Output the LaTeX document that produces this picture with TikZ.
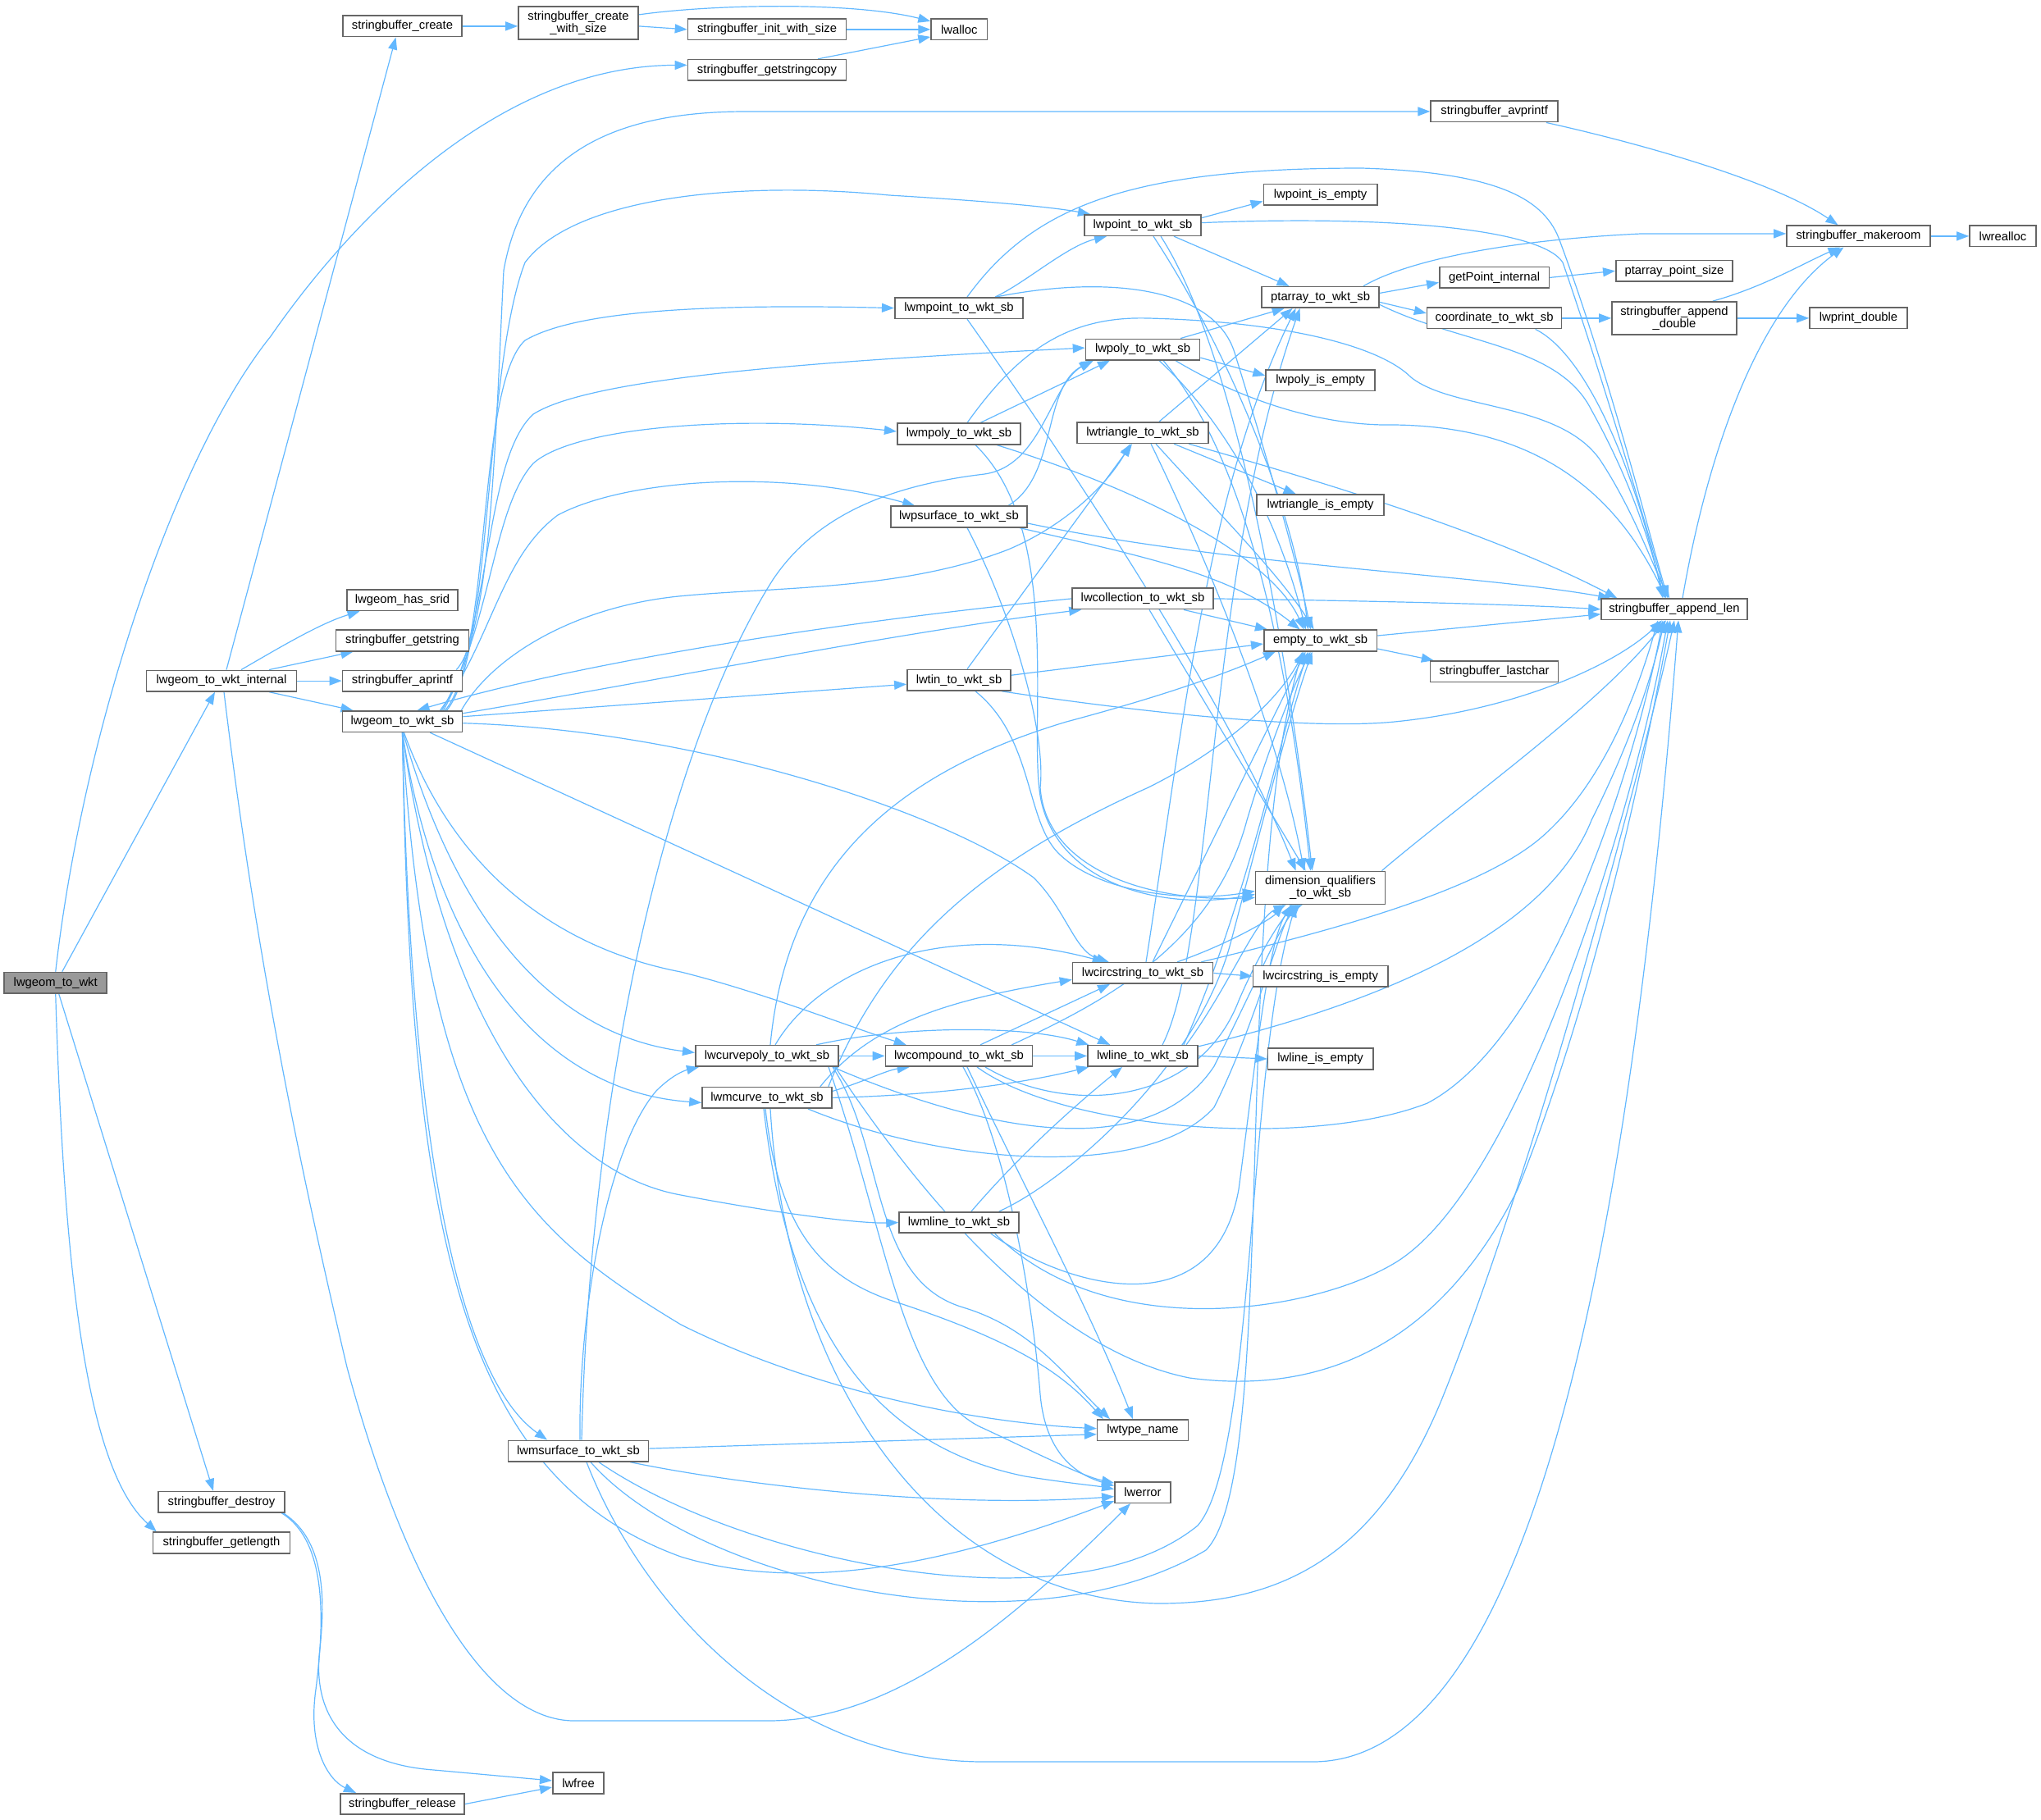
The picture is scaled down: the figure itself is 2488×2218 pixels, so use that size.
\documentclass[tikz,border=0pt]{standalone}
\usepackage{fontspec}
\setmainfont{Liberation Sans}
\usetikzlibrary{arrows.meta,calc}
\definecolor{edgeblue}{HTML}{63B8FF}
\definecolor{boxgray}{HTML}{666666}
\definecolor{rootgray}{HTML}{999999}
\pgfdeclarelayer{bg}
\pgfsetlayers{bg,main}
\begin{document}
\begin{tikzpicture}[x=0.5pt,y=-0.5pt,
  box/.style={draw=boxgray, line width=0.8pt, fill=white, rectangle, inner sep=0pt,
    minimum height=12.75pt, font=\fontsize{7.4pt}{7.6pt}\selectfont, align=center},
  wd/.style={minimum width=#1*0.5pt},
  e/.style={draw=edgeblue, line width=0.6pt, -{Triangle[length=7.5pt,width=5.5pt]}},
]
\path[use as bounding box] (0,0) rectangle (2488,2218);
% nodes
\node[box,wd=125,fill=rootgray] (root) at (67.75,1198.25) {lwgeom\_to\_wkt};
\node[box,wd=183] (internal) at (270,830.1) {lwgeom\_to\_wkt\_internal};
\node[box,wd=145] (sbcreate) at (490.5,31.9) {stringbuffer\_create};
\node[box,wd=146,minimum height=20pt] (sbcws) at (705,27.9) {stringbuffer\_create\\\_with\_size};
\node[box,wd=193] (sbinit) at (935,35.9) {stringbuffer\_init\_with\_size};
\node[box,wd=68.5] (lwalloc) at (1169.3,35.9) {lwalloc};
\node[box,wd=193] (getstringcopy) at (935,85.4) {stringbuffer\_getstringcopy};
\node[box,wd=135] (hassrid) at (490.5,731.7) {lwgeom\_has\_srid};
\node[box,wd=162] (getstring) at (490.5,781) {stringbuffer\_getstring};
\node[box,wd=146] (aprintf) at (490.5,830.1) {stringbuffer\_aprintf};
\node[box,wd=146] (tosb) at (490.5,879.7) {lwgeom\_to\_wkt\_sb};
\node[box,wd=155] (avprintf) at (1821.6,135.9) {stringbuffer\_avprintf};
\node[box,wd=142.5] (point) at (1393,274.6) {lwpoint\_to\_wkt\_sb};
\node[box,wd=138.6] (pointempty) at (1609.6,237.4) {lwpoint\_is\_empty};
\node[box,wd=156.5] (mpoint) at (1169,375.6) {lwmpoint\_to\_wkt\_sb};
\node[box,wd=143] (ptarray) at (1609.6,362.4) {ptarray\_to\_wkt\_sb};
\node[box,wd=139] (poly) at (1393,426.1) {lwpoly\_to\_wkt\_sb};
\node[box,wd=133] (polyempty) at (1609.6,463.9) {lwpoly\_is\_empty};
\node[box,wd=150.5] (mpoly) at (1169,529) {lwmpoly\_to\_wkt\_sb};
\node[box,wd=160] (triangle) at (1393,527.6) {lwtriangle\_to\_wkt\_sb};
\node[box,wd=155] (triempty) at (1609.6,615.8) {lwtriangle\_is\_empty};
\node[box,wd=166] (psurface) at (1169,630) {lwpsurface\_to\_wkt\_sb};
\node[box,wd=172] (collection) at (1393,729.9) {lwcollection\_to\_wkt\_sb};
\node[box,wd=175] (makeroom) at (2265.5,287.9) {stringbuffer\_makeroom};
\node[box,wd=81] (lwrealloc) at (2441.5,287.9) {lwrealloc};
\node[box,wd=133.6] (getpoint) at (1821.6,338.4) {getPoint\_internal};
\node[box,wd=142.4] (ptsize) at (2041,330.3) {ptarray\_point\_size};
\node[box,wd=164] (coord) at (1821.6,387.9) {coordinate\_to\_wkt\_sb};
\node[box,wd=152,minimum height=20pt] (appdouble) at (2041,387.9) {stringbuffer\_append\\\_double};
\node[box,wd=119] (lwprint) at (2265.5,387.9) {lwprint\_double};
\node[box,wd=178] (applen) at (2041,742.8) {stringbuffer\_append\_len};
\node[box,wd=137.7] (emptyn) at (1609.6,781) {empty\_to\_wkt\_sb};
\node[box,wd=156] (lastchar) at (1821.6,818.8) {stringbuffer\_lastchar};
\node[box,wd=126.3] (tin) at (1169,829.2) {lwtin\_to\_wkt\_sb};
\node[box,wd=158,minimum height=20pt] (dimq) at (1609.6,1082.4) {dimension\_qualifiers\\\_to\_wkt\_sb};
\node[box,wd=171] (circ) at (1393,1186.4) {lwcircstring\_to\_wkt\_sb};
\node[box,wd=164.3] (circempty) at (1609.6,1190.2) {lwcircstring\_is\_empty};
\node[box,wd=174.5] (curvepoly) at (935,1287.4) {lwcurvepoly\_to\_wkt\_sb};
\node[box,wd=179] (compound) at (1169,1287.4) {lwcompound\_to\_wkt\_sb};
\node[box,wd=134] (lline) at (1393,1287.4) {lwline\_to\_wkt\_sb};
\node[box,wd=128.3] (lineempty) at (1609.6,1291) {lwline\_is\_empty};
\node[box,wd=158] (mcurve) at (935,1338.4) {lwmcurve\_to\_wkt\_sb};
\node[box,wd=146] (mline) at (1169,1490.5) {lwmline\_to\_wkt\_sb};
\node[box,wd=110.7] (typename) at (1393,1743.7) {lwtype\_name};
\node[box,wd=171] (msurface) at (705,1769.1) {lwmsurface\_to\_wkt\_sb};
\node[box,wd=68.3] (lwerror) at (1393,1819.6) {lwerror};
\node[box,wd=153.5] (destroy) at (270,1831.4) {stringbuffer\_destroy};
\node[box,wd=166.7] (getlength) at (270,1881) {stringbuffer\_getlength};
\node[box,wd=62.5] (lwfree) at (705,2174) {lwfree};
\node[box,wd=151.4] (release) at (490.5,2199.5) {stringbuffer\_release};

\begin{pgfonlayer}{bg}
% root
\draw[e] (root.north) .. controls (100,900) and (210,560) .. (330,410) .. controls (420,280) and (600,80) .. ($(getstringcopy.west)+(0,-6)$);
\draw[e] ($(root.north)+(8,0)$) -- ($(internal.south)+(-8,0)$);
\draw[e] ($(root.south)+(4,0)$) -- ($(destroy.north)+(-10,0)$);
\draw[e] (root.south) .. controls (78,1550) and (105,1790) .. ($(getlength.north west)+(5,0)$);
% internal
\draw[e] ($(internal.north)+(6,0)$) -- ($(sbcreate.south)+(-8,0)$);
\draw[e] ($(internal.north)+(24,0)$) .. controls (340,790) and (390,760) .. ($(hassrid.south)+(-52,0)$);
\draw[e] ($(internal.north)+(58,0)$) -- ($(getstring.south)+(-60,0)$);
\draw[e] (internal.east) -- (aprintf.west);
\draw[e] ($(internal.south)+(58,0)$) -- ($(tosb.north)+(-60,0)$);
\draw[e] ($(internal.south)+(3,0)$) .. controls (310,1150) and (360,1400) .. (423,1667) .. controls (500,1950) and (600,2098) .. (700,2098) -- (936,2098) .. controls (1100,2098) and (1250,1960) .. ($(lwerror.south)+(-15,0)$);
% top strings
\draw[e] (sbcreate.east) -- ($(sbcws.west)+(0,4)$);
\draw[e] ($(sbcws.east)+(0,-10)$) .. controls (870,5) and (1040,2) .. ($(lwalloc.west)+(0,-10)$);
\draw[e] ($(sbcws.east)+(0,4)$) -- (sbinit.west);
\draw[e] (sbinit.east) -- (lwalloc.west);
\draw[e] ($(getstringcopy.north)+(62,0)$) -- ($(lwalloc.west)+(0,9)$);
\draw[e] ($(aprintf.north east)+(-8,0)$) .. controls (600,770) and (605,500) .. (614,330) .. controls (640,180) and (760,136) .. (909,136) -- (avprintf.west);
\draw[e] ($(avprintf.south east)+(-15,0)$) .. controls (2000,175) and (2160,220) .. ($(makeroom.north)+(-25,0)$);
\draw[e] (makeroom.east) -- (lwrealloc.west);
\draw[e] ($(appdouble.north east)+(-30,0)$) .. controls (2150,350) and (2200,320) .. ($(makeroom.south)+(-22,0)$);
\draw[e] (appdouble.east) -- (lwprint.west);
\draw[e] ($(applen.north)+(10,0)$) .. controls (2080,560) and (2140,380) .. ($(makeroom.south)+(-18,0)$);
\draw[e] (coord.east) -- (appdouble.west);
\draw[e] ($(coord.south)+(50,0)$) .. controls (1930,430) and (1990,560) .. ($(applen.north)+(-14,0)$);
\draw[e] (getpoint.east) -- (ptsize.west);
% ptarray
\draw[e] ($(ptarray.east)+(0,-5)$) -- ($(getpoint.west)+(0,6)$);
\draw[e] ($(ptarray.east)+(0,6)$) -- ($(coord.west)+(0,-6)$);
\draw[e] ($(ptarray.north east)+(-20,0)$) .. controls (1720,315) and (1850,292) .. (2000,285) -- ($(makeroom.west)+(0,-3)$);
\draw[e] ($(ptarray.east)+(0,9)$) .. controls (1780,420) and (1900,420) .. (1940,500) .. controls (1990,590) and (2010,660) .. ($(applen.north)+(-12,0)$);
% point
\draw[e] ($(point.east)+(0,-9)$) -- ($(pointempty.west)+(0,8)$);
\draw[e] ($(point.east)+(0,-3)$) .. controls (1700,262) and (1880,280) .. (1905,320) .. controls (1950,450) and (2010,650) .. ($(applen.north)+(-10,0)$);
\draw[e] ($(point.south)+(38,0)$) -- ($(ptarray.north)+(-38,0)$);
\draw[e] ($(point.south)+(13,0)$) .. controls (1480,400) and (1575,600) .. ($(emptyn.north)+(-15,0)$);
\draw[e] ($(point.south)+(22,0)$) .. controls (1500,420) and (1565,750) .. ($(dimq.north)+(-10,0)$);
% mpoint
\draw[e] ($(mpoint.north)+(44,0)$) .. controls (1250,345) and (1300,300) .. ($(point.south)+(-44,0)$);
\draw[e] ($(mpoint.north)+(10,0)$) .. controls (1260,250) and (1380,205) .. (1660,205) .. controls (1820,210) and (1880,240) .. (1900,290) .. controls (1960,450) and (2010,650) .. ($(applen.north)+(-8,0)$);
\draw[e] ($(mpoint.north east)+(-34,0)$) .. controls (1350,335) and (1480,350) .. (1505,430) .. controls (1545,560) and (1580,680) .. ($(emptyn.north)+(-12,0)$);
\draw[e] ($(mpoint.south)+(10,0)$) .. controls (1300,560) and (1500,860) .. ($(dimq.north)+(-30,0)$);
% poly
\draw[e] ($(poly.north)+(46,0)$) -- ($(ptarray.south)+(-44,0)$);
\draw[e] ($(poly.east)+(0,10)$) -- ($(polyempty.west)+(0,-6)$);
\draw[e] ($(poly.south)+(40,0)$) .. controls (1500,480) and (1600,520) .. (1700,518) .. controls (1850,520) and (1960,580) .. ($(applen.north)+(-10,0)$);
\draw[e] ($(poly.south)+(20,0)$) .. controls (1500,520) and (1560,640) .. ($(emptyn.north)+(-18,0)$);
\draw[e] ($(poly.south)+(25,0)$) .. controls (1520,560) and (1570,800) .. ($(dimq.north)+(-12,0)$);
% mpoly
\draw[e] ($(mpoly.north)+(26,0)$) -- ($(poly.south)+(-40,0)$);
\draw[e] ($(mpoly.north)+(10,0)$) .. controls (1240,430) and (1300,385) .. (1400,388) .. controls (1560,392) and (1680,420) .. (1720,460) .. controls (1770,500) and (1900,490) .. (1950,560) .. controls (1990,620) and (2015,690) .. ($(applen.north)+(-6,0)$);
\draw[e] ($(mpoly.south east)+(-30,0)$) .. controls (1400,600) and (1550,680) .. ($(emptyn.north)+(-20,0)$);
\draw[e] ($(mpoly.south)+(20,0)$) .. controls (1300,650) and (1250,900) .. (1270,980) .. controls (1295,1080) and (1420,1110) .. ($(dimq.west)+(0,8)$);
% triangle
\draw[e] ($(triangle.north)+(20,0)$) -- ($(ptarray.south)+(-34,0)$);
\draw[e] ($(triangle.south)+(38,0)$) -- ($(triempty.north)+(-30,0)$);
\draw[e] ($(triangle.south)+(56,0)$) .. controls (1550,570) and (1800,640) .. ($(applen.north west)+(20,0)$);
\draw[e] ($(triangle.south)+(16,0)$) .. controls (1480,620) and (1560,700) .. ($(emptyn.north)+(-8,0)$);
\draw[e] ($(triangle.south)+(10,0)$) .. controls (1480,700) and (1560,900) .. ($(dimq.north)+(-20,0)$);
% psurface
\draw[e] ($(psurface.north)+(60,0)$) .. controls (1290,580) and (1270,470) .. ($(poly.south)+(-60,0)$);
\draw[e] ($(psurface.east)+(0,8)$) .. controls (1500,690) and (1800,700) .. ($(applen.north west)+(12,0)$);
\draw[e] ($(psurface.south east)+(-10,0)$) .. controls (1400,680) and (1500,700) .. ($(emptyn.north)+(-25,0)$);
\draw[e] ($(psurface.south)+(10,0)$) .. controls (1240,760) and (1275,900) .. (1268,960) .. controls (1275,1060) and (1400,1100) .. ($(dimq.west)+(0,12)$);
% collection
\draw[e] (collection.east) .. controls (1700,733) and (1850,737) .. (applen.west);
\draw[e] ($(collection.south)+(50,0)$) -- ($(emptyn.north west)+(5,0)$);
\draw[e] ($(collection.south)+(8,0)$) -- ($(dimq.north)+(-18,0)$);
\draw[e] (collection.west) .. controls (1000,760) and (700,810) .. ($(tosb.north)+(18,0)$);
% lwgeom_to_wkt_sb
\draw[e] ($(tosb.east)+(0,-10)$) .. controls (800,830) and (1100,770) .. ($(collection.south west)+(12,0)$);
\draw[e] ($(tosb.east)+(0,-6)$) -- ($(tin.west)+(0,5)$);
\draw[e] ($(tosb.north east)+(-2,0)$) .. controls (600,800) and (700,740) .. (827,727) .. controls (950,715) and (1100,720) .. (1229,670) .. controls (1300,640) and (1350,590) .. ($(triangle.south)+(-15,0)$);
\draw[e] ($(tosb.east)+(0,2)$) .. controls (850,890) and (1150,990) .. (1260,1070) .. controls (1300,1110) and (1310,1160) .. ($(circ.north west)+(45,0)$);
\draw[e] ($(tosb.south east)+(-40,0)$) -- ($(lline.north west)+(28,0)$);
\draw[e] ($(tosb.north)+(54,0)$) .. controls (600,800) and (590,450) .. (640,320) .. controls (700,240) and (900,220) .. (1084,238) .. controls (1200,245) and (1280,252) .. ($(point.north west)+(8,0)$);
\draw[e] ($(tosb.north)+(52,0)$) .. controls (600,800) and (580,470) .. (640,415) .. controls (700,380) and (850,370) .. (mpoint.west);
\draw[e] ($(tosb.north)+(50,0)$) .. controls (600,760) and (590,560) .. (650,505) .. controls (720,460) and (1000,440) .. ($(poly.west)+(0,-2)$);
\draw[e] ($(tosb.north)+(48,0)$) .. controls (600,760) and (600,620) .. (650,565) .. controls (700,520) and (900,505) .. ($(mpoly.west)+(0,-3)$);
\draw[e] ($(tosb.north)+(46,0)$) .. controls (600,780) and (610,680) .. (680,628) .. controls (760,585) and (950,570) .. ($(psurface.north west)+(30,0)$);
\draw[e] ($(tosb.south)+(2,0)$) .. controls (560,1080) and (700,1160) .. (830,1185) .. controls (930,1210) and (1030,1250) .. ($(compound.north west)+(26,0)$);
\draw[e] ($(tosb.south)+(1,0)$) .. controls (550,1100) and (660,1260) .. ($(curvepoly.west)+(0,-4)$);
\draw[e] (tosb.south) .. controls (530,1150) and (650,1330) .. ($(mcurve.west)+(0,6)$);
\draw[e] (tosb.south) .. controls (540,1250) and (680,1430) .. (830,1457) .. controls (950,1480) and (1050,1492) .. (mline.west);
\draw[e] (tosb.south) .. controls (520,1400) and (640,1500) .. (830,1615) .. controls (1000,1700) and (1200,1735) .. ($(typename.west)+(0,-2)$);
\draw[e] (tosb.south) .. controls (500,1400) and (560,1680) .. ($(msurface.north)+(-38,0)$);
\draw[e] (tosb.south) .. controls (500,1500) and (560,1800) .. (830,1898) .. controls (1000,1950) and (1200,1890) .. ($(lwerror.south west)+(0,-3)$);
% tin
\draw[e] ($(tin.north)+(10,0)$) -- ($(triangle.south)+(-13,0)$);
\draw[e] ($(tin.east)+(0,-6)$) -- ($(emptyn.west)+(0,4)$);
\draw[e] ($(tin.south east)+(-12,0)$) .. controls (1400,870) and (1600,890) .. (1700,880) .. controls (1850,865) and (1970,810) .. ($(applen.south)+(-15,0)$);
\draw[e] ($(tin.south)+(20,0)$) .. controls (1260,900) and (1250,1000) .. (1290,1040) .. controls (1340,1090) and (1450,1100) .. ($(dimq.west)+(0,4)$);
% empty, dimq
\draw[e] ($(emptyn.east)+(0,-6)$) -- ($(applen.west)+(0,6)$);
\draw[e] ($(emptyn.east)+(0,10)$) -- ($(lastchar.north west)+(5,0)$);
\draw[e] ($(dimq.north east)+(-5,0)$) .. controls (1780,980) and (1950,860) .. ($(applen.south)+(-10,0)$);
% circ
\draw[e] (circ.east) -- (circempty.west);
\draw[e] ($(circ.north east)+(-15,0)$) .. controls (1600,1140) and (1800,1090) .. (1880,1020) .. controls (1960,950) and (2000,830) .. ($(applen.south)+(-20,0)$);
\draw[e] ($(circ.north)+(42,0)$) .. controls (1500,1150) and (1550,1120) .. ($(dimq.south)+(-45,0)$);
\draw[e] ($(circ.north)+(12,0)$) -- ($(emptyn.south)+(-18,0)$);
\draw[e] ($(circ.north)+(4,0)$) .. controls (1440,900) and (1470,600) .. ($(ptarray.south)+(-30,0)$);
% line
\draw[e] (lline.east) -- (lineempty.west);
\draw[e] ($(lline.north east)+(0,2)$) .. controls (1650,1230) and (1880,1150) .. (1940,1000) .. controls (1990,900) and (2015,820) .. ($(applen.south)+(-12,0)$);
\draw[e] ($(lline.north)+(53,0)$) .. controls (1500,1200) and (1530,1120) .. ($(dimq.south)+(-42,0)$);
\draw[e] ($(lline.north)+(50,0)$) .. controls (1520,1100) and (1560,900) .. ($(emptyn.south)+(-15,0)$);
\draw[e] ($(lline.north)+(24,0)$) .. controls (1480,1150) and (1470,700) .. ($(ptarray.south)+(-25,0)$);
% compound
\draw[e] (compound.east) -- (lline.west);
\draw[e] ($(compound.north)+(26,0)$) -- ($(circ.south)+(-40,0)$);
\draw[e] ($(compound.south)+(22,0)$) .. controls (1300,1380) and (1600,1400) .. (1740,1345) .. controls (1900,1260) and (2000,900) .. ($(applen.south)+(-14,0)$);
\draw[e] ($(compound.south)+(32,0)$) .. controls (1300,1360) and (1460,1350) .. (1510,1220) .. controls (1540,1150) and (1570,1110) .. ($(dimq.south)+(-22,0)$);
\draw[e] ($(compound.north east)+(-26,0)$) .. controls (1350,1220) and (1480,1150) .. (1520,1000) .. controls (1550,900) and (1580,830) .. ($(emptyn.south)+(-12,0)$);
\draw[e] ($(compound.south)+(5,0)$) .. controls (1230,1400) and (1260,1600) .. (1268,1700) .. controls (1275,1780) and (1320,1800) .. ($(lwerror.west)+(0,-8)$);
\draw[e] ($(compound.south)+(10,0)$) .. controls (1250,1450) and (1330,1600) .. ($(typename.north)+(-12,0)$);
% curvepoly
\draw[e] (curvepoly.east) -- (compound.west);
\draw[e] ($(curvepoly.north)+(60,0)$) .. controls (1100,1250) and (1250,1250) .. ($(lline.north west)+(2,0)$);
\draw[e] ($(curvepoly.north)+(10,0)$) .. controls (1000,1180) and (1150,1120) .. ($(circ.north west)+(40,0)$);
\draw[e] ($(curvepoly.north)+(4,0)$) .. controls (960,1050) and (1100,940) .. (1300,880) .. controls (1450,840) and (1520,810) .. ($(emptyn.south west)+(15,0)$);
\draw[e] ($(curvepoly.south east)+(-8,0)$) .. controls (1200,1380) and (1400,1420) .. (1480,1300) .. controls (1530,1200) and (1560,1130) .. ($(dimq.south)+(-25,0)$);
\draw[e] ($(curvepoly.south east)+(-5,0)$) .. controls (1150,1500) and (1300,1650) .. (1450,1680) .. controls (1600,1700) and (1750,1650) .. (1850,1450) .. controls (1950,1200) and (2010,900) .. ($(applen.south)+(-5,0)$);
\draw[e] ($(curvepoly.south)+(80,0)$) .. controls (1080,1400) and (1060,1560) .. (1174,1594) .. controls (1260,1620) and (1300,1680) .. ($(typename.north)+(-40,0)$);
\draw[e] ($(curvepoly.south)+(75,0)$) .. controls (1080,1500) and (1100,1700) .. (1200,1742) .. controls (1260,1770) and (1320,1800) .. ($(lwerror.north west)+(0,2)$);
% mcurve
\draw[e] ($(mcurve.east)+(0,-8)$) .. controls (1050,1320) and (1080,1305) .. ($(compound.south west)+(30,0)$);
\draw[e] (mcurve.east) .. controls (1150,1335) and (1250,1320) .. ($(lline.south west)+(2,0)$);
\draw[e] ($(mcurve.north east)+(-15,0)$) .. controls (1060,1250) and (1150,1220) .. ($(circ.west)+(0,8)$);
\draw[e] ($(mcurve.north east)+(-5,0)$) .. controls (1080,1150) and (1200,1050) .. (1400,960) .. controls (1500,910) and (1560,850) .. ($(emptyn.south)+(-20,0)$);
\draw[e] ($(mcurve.south east)+(-30,0)$) .. controls (1150,1420) and (1400,1440) .. (1480,1350) .. controls (1530,1250) and (1560,1130) .. ($(dimq.south)+(-28,0)$);
\draw[e] ($(mcurve.south)+(4,0)$) .. controls (960,1700) and (1150,1950) .. (1412,1955) .. controls (1560,1955) and (1680,1900) .. (1760,1700) .. controls (1880,1400) and (2010,900) .. (applen.south);
\draw[e] ($(mcurve.south)+(-2,0)$) .. controls (950,1500) and (1000,1560) .. (1100,1590) .. controls (1250,1640) and (1300,1680) .. ($(typename.north west)+(8,0)$);
\draw[e] ($(mcurve.south)+(-4,0)$) .. controls (960,1600) and (1050,1760) .. (1250,1800) .. controls (1300,1808) and (1340,1812) .. ($(lwerror.west)+(0,-4)$);
% mline
\draw[e] ($(mline.north)+(15,0)$) .. controls (1250,1400) and (1320,1340) .. ($(lline.south)+(-25,0)$);
\draw[e] ($(mline.north east)+(-25,0)$) .. controls (1300,1440) and (1460,1300) .. (1500,1150) .. controls (1540,1000) and (1570,880) .. ($(emptyn.south)+(-10,0)$);
\draw[e] ($(mline.south east)+(-35,0)$) .. controls (1300,1570) and (1480,1620) .. (1510,1450) .. controls (1530,1300) and (1545,1150) .. ($(dimq.south)+(-35,0)$);
\draw[e] ($(mline.south east)+(-30,0)$) .. controls (1350,1640) and (1600,1600) .. (1700,1540) .. controls (1850,1450) and (1990,1000) .. ($(applen.south)+(-8,0)$);
% msurface
\draw[e] ($(msurface.north)+(2,0)$) .. controls (705,1600) and (740,1400) .. (800,1330) .. controls (820,1310) and (835,1305) .. ($(curvepoly.south west)+(5,0)$);
\draw[e] ($(msurface.north)+(4,0)$) .. controls (720,1300) and (820,900) .. (942,707) .. controls (1000,620) and (1100,590) .. (1200,578) .. controls (1270,568) and (1280,470) .. ($(poly.south west)+(8,0)$);
\draw[e] ($(msurface.east)+(0,-3)$) -- ($(typename.west)+(0,5)$);
\draw[e] ($(msurface.south east)+(-23,0)$) .. controls (900,1810) and (1150,1840) .. ($(lwerror.west)+(0,5)$);
\draw[e] ($(msurface.south)+(25,0)$) .. controls (900,1900) and (1300,1990) .. (1460,1860) .. controls (1530,1780) and (1520,1300) .. ($(dimq.south)+(-30,0)$);
\draw[e] ($(msurface.south)+(15,0)$) .. controls (850,1930) and (1250,2020) .. (1470,1890) .. controls (1560,1800) and (1500,1100) .. ($(emptyn.south)+(-22,0)$);
\draw[e] ($(msurface.south)+(10,0)$) .. controls (780,1950) and (950,2148) .. (1200,2148) -- (1600,2148) .. controls (1850,2148) and (1980,1600) .. ($(applen.south)+(5,0)$);
% destroy / release
\draw[e] ($(destroy.south east)+(-2,0)$) .. controls (400,1880) and (395,1960) .. (390,2010) .. controls (380,2090) and (420,2150) .. (529,2158) -- ($(lwfree.west)+(0,-3)$);
\draw[e] ($(destroy.south east)+(-4,0)$) .. controls (400,1880) and (395,1980) .. (385,2060) .. controls (375,2130) and (400,2170) .. ($(release.north west)+(20,0)$);
\draw[e] (release.east) -- ($(lwfree.west)+(0,5)$);
\end{pgfonlayer}
\end{tikzpicture}
\end{document}
